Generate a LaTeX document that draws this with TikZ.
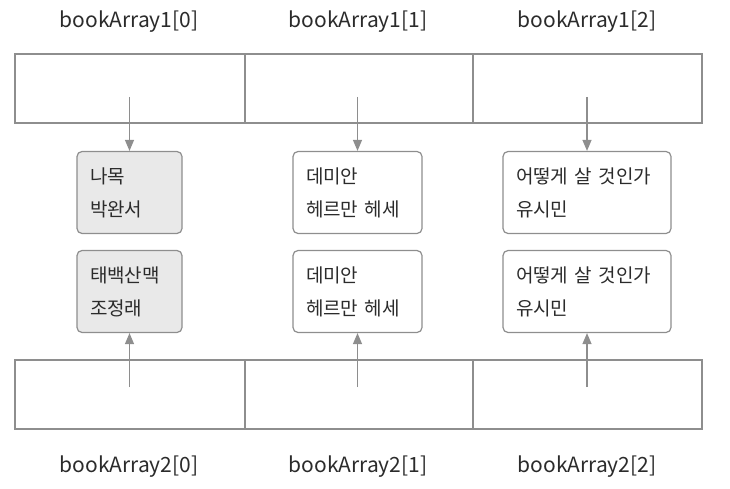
\documentclass[tikz,border=0pt]{standalone}
\usepackage{fontspec}
\setmainfont{Noto Sans CJK KR}
\usetikzlibrary{arrows.meta}
\definecolor{linegray}{HTML}{8E8E8E}
\definecolor{boxfill}{HTML}{E9E9E9}
\definecolor{txtgray}{HTML}{2B2B2B}

\begin{document}
\begin{tikzpicture}[x=1pt, y=-1pt, line width=1.2pt, font=\fontsize{19}{33}\selectfont, text=txtgray,
  slot/.style = {draw=linegray, minimum height=69pt, inner sep=0pt},
  book/.style = {draw=linegray, rounded corners=5pt, minimum height=82pt, inner xsep=13pt, inner ysep=0pt, align=left},
  ptr/.style = {draw=linegray, -{Triangle[length=11pt, width=9pt]}},
  idx/.style = {inner sep=0pt, font=\fontsize{21}{25}\selectfont}]
      \useasboundingbox (0,0) rectangle (730,489);
      % first array
      \node[slot, minimum width=230pt] (a1) at (130,88.5) {};
      \node[slot, minimum width=228pt] (a2) at (359,88.5) {};
      \node[slot, minimum width=229pt] (a3) at (587.5,88.5) {};
      \node[idx] (n1) at (129,22) {bookArray1[0]};
      \node[idx] (n2) at (358,22) {bookArray1[1]};
      \node[idx] (n3) at (587,22) {bookArray1[2]};
      % books of first array
      \node[book, fill=boxfill, text width=79pt] (b1) at (129.5,192.5) {나목\\박완서};
      \node[book, text width=103pt] (b2) at (357.5,192.5) {데미안\\헤르만 헤세};
      \node[book, text width=142pt] (b3) at (587,192.5) {어떻게 살 것인가\\유시민};
      \coordinate (p1) at (129.5,97);
      \coordinate (p2) at (357.5,97);
      \coordinate (p3) at (587,97);
      \draw[ptr] (p1) -- (b1.north);
      \draw[ptr] (p2) -- (b2.north);
      \draw[ptr] (p3) -- (b3.north);
      % second array
      \node[slot, minimum width=230pt] (c1) at (130,394.5) {};
      \node[slot, minimum width=228pt] (c2) at (359,394.5) {};
      \node[slot, minimum width=229pt] (c3) at (587.5,394.5) {};
      \node[idx] (m1) at (129,467) {bookArray2[0]};
      \node[idx] (m2) at (358,467) {bookArray2[1]};
      \node[idx] (m3) at (587,467) {bookArray2[2]};
      % books of second array
      \node[book, fill=boxfill, text width=79pt] (d1) at (129.5,291.5) {태백산맥\\조정래};
      \node[book, text width=103pt] (d2) at (357.5,291.5) {데미안\\헤르만 헤세};
      \node[book, text width=142pt] (d3) at (587,291.5) {어떻게 살 것인가\\유시민};
      \coordinate (q1) at (129.5,387);
      \coordinate (q2) at (357.5,387);
      \coordinate (q3) at (587,387);
      \draw[ptr] (q1) -- (d1.south);
      \draw[ptr] (q2) -- (d2.south);
      \draw[ptr] (q3) -- (d3.south);
\end{tikzpicture}
\end{document}
